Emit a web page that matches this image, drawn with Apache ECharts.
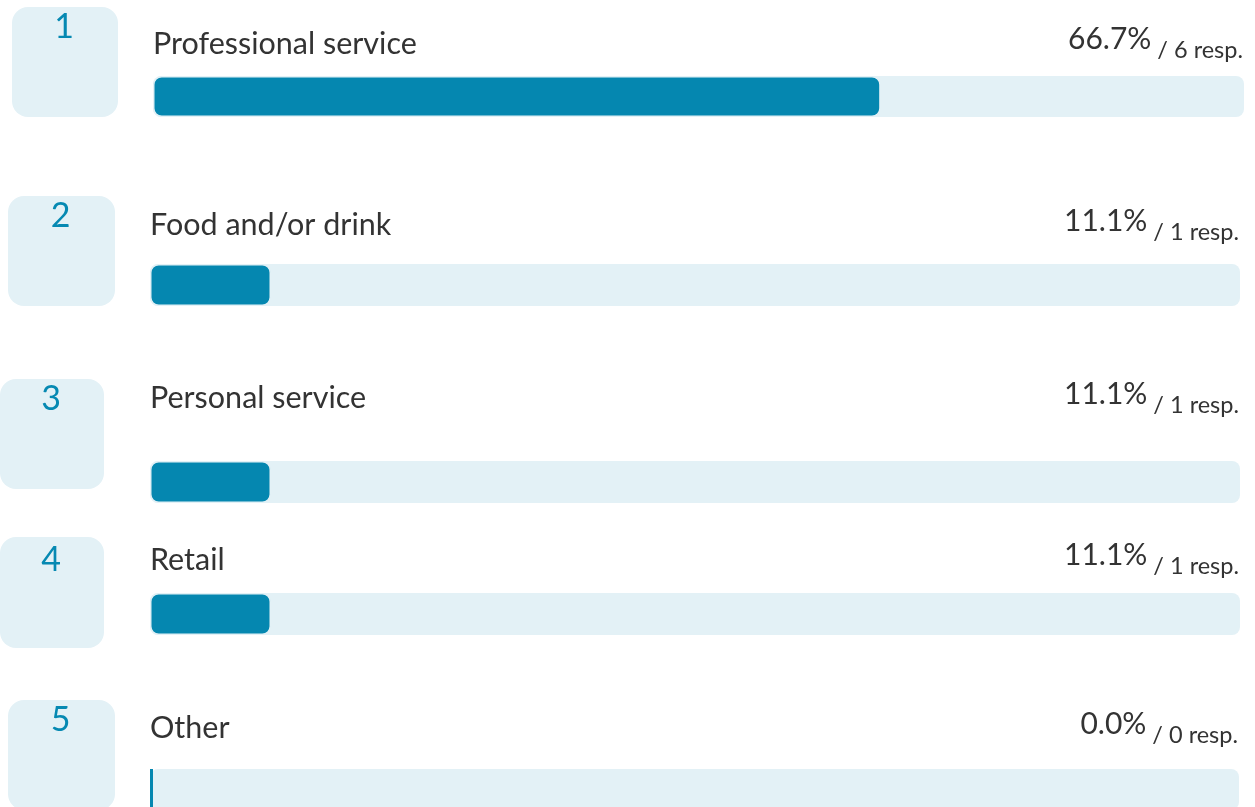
<!DOCTYPE html>
<html><head><meta charset="utf-8">
<script src="https://cdn.jsdelivr.net/npm/echarts@6/dist/echarts.min.js"></script>
<style>html,body{margin:0;padding:0;background:#fff}#c{width:1255px;height:807px}</style>
</head><body><div id="c"></div>
<script>
// ---- data ----
const categories = ['Professional service', 'Food and/or drink', 'Personal service', 'Retail', 'Other'];
const ranks = [1, 2, 3, 4, 5];
const percents = [66.7, 11.1, 11.1, 11.1, 0.0];
const responses = [6, 1, 1, 1, 0];

// ---- layout (pixels) ----
const tracks = [
  {l: 153, r: 1244, t: 76, h: 41},
  {l: 150, r: 1240, t: 264, h: 42},
  {l: 150, r: 1240, t: 461, h: 42},
  {l: 150, r: 1240, t: 593, h: 42},
  {l: 150, r: 1239, t: 769, h: 41}
];
const nameCenterY = [44.5, 225.5, 398.5, 560, 728];
const valueCenterY = [43, 225, 398, 559.5, 728];
const boxes = [
  {x: 12, y: 7, w: 106, h: 110, dy: 27.5},
  {x: 8, y: 196, w: 107, h: 110, dy: 216},
  {x: 0, y: 379, w: 104, h: 110, dy: 399.5},
  {x: 0, y: 537, w: 104, h: 111, dy: 560},
  {x: 8, y: 700, w: 107, h: 110, dy: 720}
];

const FONT = 'Lato, "Open Sans", sans-serif';
const TEXT = '#333333';
const ACCENT = '#0689b2';
const FILL = '#0587b0';
const TRACK = '#e3f1f6';

const grid = [], xAxis = [], yAxis = [], series = [], graphic = [];

categories.forEach((name, i) => {
  const t = tracks[i];
  grid.push({left: t.l, top: t.t, width: t.r - t.l, height: t.h, containLabel: false, outerBoundsMode: 'none'});
  xAxis.push({type: 'value', gridIndex: i, min: 0, max: 100, show: false});
  yAxis.push({type: 'category', gridIndex: i, data: [name], show: false});
  const shift = valueCenterY[i] - (t.t + t.h / 2);
  yAxis.push({
    type: 'category', gridIndex: i, data: [name], position: 'right',
    axisLine: {show: false}, axisTick: {show: false}, splitLine: {show: false},
    axisLabel: {
      inside: true, margin: 1,
      padding: [0, 0, -2 * shift, 0],
      formatter: () => '{a|' + percents[i].toFixed(1) + '%}{b| / ' + responses[i] + ' resp.}',
      rich: {
        a: {fontFamily: FONT, fontSize: 30, color: TEXT, verticalAlign: 'bottom', padding: [0, 0, 8, 0]},
        b: {fontFamily: FONT, fontSize: 23.5, color: TEXT, verticalAlign: 'bottom'}
      }
    }
  });
  const hasValue = percents[i] > 0;
  series.push({
    type: 'bar', xAxisIndex: i, yAxisIndex: 2 * i,
    data: [percents[i]],
    barWidth: t.h, barMinHeight: 3,
    showBackground: true,
    backgroundStyle: {color: TRACK, borderRadius: 8},
    itemStyle: {color: FILL, borderRadius: hasValue ? 8 : 0, borderColor: TRACK, borderWidth: hasValue ? 1.5 : 0},
    label: {
      show: true, position: [0, nameCenterY[i] - t.t],
      align: 'left', verticalAlign: 'middle',
      formatter: () => name,
      fontFamily: FONT, fontSize: 30.5, color: TEXT
    },
    silent: true, animation: false
  });
  const b = boxes[i];
  graphic.push({type: 'rect', shape: {x: b.x, y: b.y, width: b.w, height: b.h, r: 16}, style: {fill: TRACK}, silent: true});
  graphic.push({type: 'text', x: b.x + b.w / 2 - 1, y: b.dy, style: {text: String(ranks[i]), fill: ACCENT, fontFamily: FONT, fontSize: 34, align: 'center', verticalAlign: 'middle'}, silent: true});
});

const chart = echarts.init(document.getElementById('c'), null, {renderer: 'canvas'});
chart.setOption({animation: false, grid, xAxis, yAxis, series, graphic});
</script>
</body></html>
